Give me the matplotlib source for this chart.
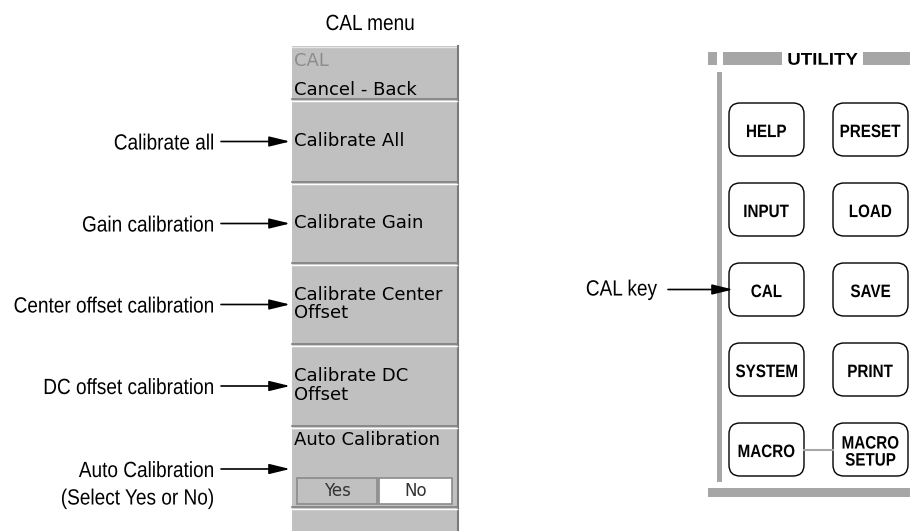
import matplotlib
matplotlib.use('Agg')
from matplotlib import pyplot
from matplotlib import patches
from matplotlib.font_manager import FontProperties
from matplotlib.textpath import TextPath
from matplotlib.transforms import Affine2D

# menu text, top to bottom
menu_head = ['CAL', 'Cancel - Back']
menu_items = [['Calibrate All'], ['Calibrate Gain'],
              ['Calibrate Center', 'Offset'], ['Calibrate DC', 'Offset'],
              ['Auto Calibration']]
choices = ['Yes', 'No']
callouts = ['Calibrate all', 'Gain calibration', 'Center offset calibration',
            'DC offset calibration', 'Auto Calibration\n(Select Yes or No)']
title = 'CAL menu'

# front panel keys, row by row
keys = [['HELP', 'PRESET'], ['INPUT', 'LOAD'], ['CAL', 'SAVE'],
        ['SYSTEM', 'PRINT'], ['MACRO', 'MACRO\nSETUP']]
panel_title = 'UTILITY'
key_callout = 'CAL key'

MENU_BG = '#c0c0c0'
BAR = '#a6a6a6'


def ntext(ax, x, y, s, size, sx=0.865, ha='center', weight='normal'):
  # condensed text drawn as a path; y is the middle of the capitals
  prop = FontProperties(family='Liberation Sans', weight=weight)
  path = TextPath((0, 0), s, size=size, prop=prop)
  bb = path.get_extents()
  if ha == 'right':
    x0 = x - bb.x1 * sx
  elif ha == 'left':
    x0 = x - bb.x0 * sx
  else:
    x0 = x - (bb.x0 + bb.x1) / 2 * sx
  tr = Affine2D().scale(sx, -1).translate(x0, y + 0.729 * size / 2)
  ax.add_patch(patches.PathPatch(tr.transform_path(path), facecolor='black',
                                 edgecolor='none', lw=0))


def arrow(ax, x0, x1, y):
  ax.annotate('', xy=(x1, y), xytext=(x0, y),
              arrowprops=dict(arrowstyle='-|>,head_length=0.9,head_width=0.22',
                              color='black', lw=1.2, mutation_scale=14,
                              shrinkA=0, shrinkB=0))


def draw_menu(ax):
  left, right = 292, 458
  bounds = [46, 100, 183, 264, 345, 427, 508, 531]
  ax.add_patch(patches.Rectangle((left, bounds[0]), right - left,
                                 531 - bounds[0], facecolor=MENU_BG,
                                 edgecolor='none'))
  ax.plot([left, right], [bounds[0] + 0.5] * 2, color='#e6e6e6', lw=1)
  ax.plot([right, right], [bounds[0], 531], color='#7a7a7a', lw=1.5)
  for y in bounds[1:-1]:
    ax.plot([left, right - 1], [y - 1, y - 1], color='#808080', lw=1.2)
    ax.plot([left, right - 1], [y + 0.5, y + 0.5], color='white', lw=1)
  tx = left + 2
  fs = 13
  ax.text(tx, 61, menu_head[0], fontsize=fs, color='#8c8c8c',
          va='center', ha='left')
  ax.text(tx, 90, menu_head[1], fontsize=fs, color='black',
          va='center', ha='left')
  for i, lines in enumerate(menu_items[:-1]):
    yc = (bounds[i + 1] + bounds[i + 2]) / 2
    offs = [0] if len(lines) == 1 else [-10, 9]
    for line, dy in zip(lines, offs):
      ax.text(tx, yc + dy, line, fontsize=fs, va='center', ha='left')
  ax.text(tx, 440, menu_items[-1][0], fontsize=fs, va='center', ha='left')
  # Yes / No selector
  boxes = [(297, 377, MENU_BG), (379, 452, 'white')]
  for (x0, x1, fc), label in zip(boxes, choices):
    ax.add_patch(patches.Rectangle((x0, 478), x1 - x0, 26, facecolor=fc,
                                   edgecolor='#8a8a8a', lw=1.2))
    ax.text((x0 + x1) / 2, 491.5, label, fontsize=12, color='#333333',
            ha='center', va='center')
  # callouts on the left
  for i, label in enumerate(callouts):
    yc = (bounds[i + 1] + bounds[i + 2]) / 2
    if i == len(callouts) - 1:
      yc = 469
    for j, line in enumerate(label.split('\n')):
      ntext(ax, 213, yc + j * 27.5, line, 22, ha='right')
    arrow(ax, 221, 290, yc)
  ntext(ax, 370, 22, title, 22)


def draw_panel(ax):
  # header bar
  for x0, x1 in [(708, 717), (723, 782), (863, 910)]:
    ax.add_patch(patches.Rectangle((x0, 52), x1 - x0, 13, facecolor=BAR,
                                   edgecolor='none'))
  ntext(ax, 823, 58.5, panel_title, 17, sx=1.1, weight='bold')
  ax.add_patch(patches.Rectangle((717, 72), 5, 410, facecolor=BAR,
                                 edgecolor='none'))
  ax.add_patch(patches.Rectangle((708, 488), 202, 9, facecolor=BAR,
                                 edgecolor='none'))
  cols = [729, 833]
  w, h, step, top = 75, 53, 80, 103
  ax.plot([cols[0] + w, cols[1]], [top + 4 * step + 26.5] * 2,
          color=BAR, lw=1.5)
  for r, row in enumerate(keys):
    y0 = top + r * step
    for c, label in enumerate(row):
      x0 = cols[c]
      ax.add_patch(patches.FancyBboxPatch(
          (x0, y0), w, h, boxstyle='round,pad=0,rounding_size=11',
          facecolor='white', edgecolor='black', lw=1.0))
      lines = label.split('\n')
      offs = [0] if len(lines) == 1 else [-8.5, 8.5]
      for line, dy in zip(lines, offs):
        ntext(ax, x0 + w / 2, y0 + h / 2 + 1 + dy, line, 18, sx=0.845,
              weight='bold')
  yc = top + 2 * step + h / 2
  ntext(ax, 657, yc - 2, key_callout, 22, ha='right')
  arrow(ax, 668, 733, yc)


def main():
  fig = pyplot.figure(figsize=(9.1, 5.31), dpi=100)
  ax = fig.add_axes([0, 0, 1, 1])
  ax.set_xlim(0, 910)
  ax.set_ylim(531, 0)
  ax.axis('off')
  draw_menu(ax)
  draw_panel(ax)
  fig.savefig('out.png', dpi=100)


if __name__ == '__main__':
  main()
